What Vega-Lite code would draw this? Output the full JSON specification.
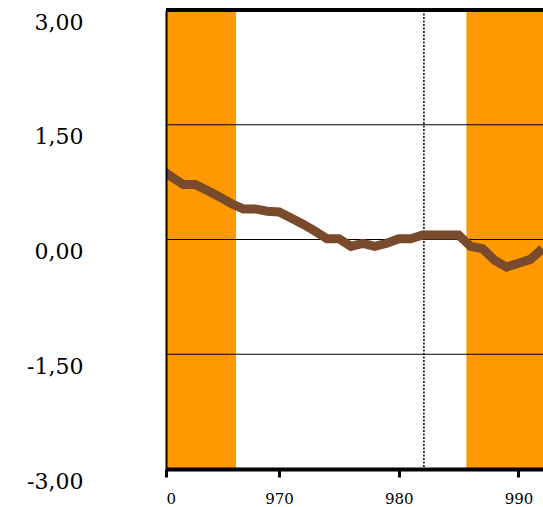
{
  "$schema": "https://vega.github.io/schema/vega-lite/v6.json",
  "width": 377,
  "height": 459,
  "autosize": {"type": "none"},
  "padding": {"left": 166, "top": 10, "right": 0, "bottom": 38},
  "background": "white",
  "config": {"view": {"stroke": null}},
  "layer": [
    {
      "data": {"values": [{"start": 960.55, "end": 966.4}, {"start": 985.65, "end": 992.05}]},
      "mark": {"type": "rect", "color": "#ff9900", "clip": true},
      "encoding": {
        "x": {
          "field": "start", "type": "quantitative", "title": null,
          "scale": {"domain": [960.55, 992.05], "nice": false, "zero": false},
          "axis": {
            "zindex": 1, "grid": false,
            "domainColor": "black", "domainWidth": 4,
            "tickColor": "black", "tickWidth": 3, "tickSize": 8,
            "values": [960.55, 970, 980, 990],
            "labelExpr": "datum.value < 961 ? '0' : format(datum.value, 'd')",
            "labelFont": "DejaVu Serif", "labelFontSize": 15, "labelColor": "black",
            "labelPadding": 14, "labelBaseline": "top", "labelFlush": true
          }
        },
        "x2": {"field": "end"}
      }
    },
    {
      "data": {"values": [{"g": 1.5}, {"g": 0}, {"g": -1.5}]},
      "mark": {"type": "rule", "color": "black", "strokeWidth": 1},
      "encoding": {
        "y": {
          "field": "g", "type": "quantitative", "title": null,
          "scale": {"domain": [-3, 3], "nice": false, "zero": false},
          "axis": {
            "zindex": 1, "grid": false, "ticks": false,
            "domainColor": "black", "domainWidth": 2,
            "values": [3, 1.5, 0, -1.5, -3],
            "labelExpr": "(datum.value < 0 ? '-' : '') + replace(format(abs(datum.value), '.2f'), '.', ',')",
            "labelFont": "DejaVu Serif", "labelFontSize": 22, "labelColor": "black",
            "labelPadding": 83, "labelBaseline": "top", "labelOffset": 2
          }
        }
      }
    },
    {
      "data": {"values": [{"t": 982.1}]},
      "mark": {"type": "rule", "color": "black", "strokeWidth": 1.5, "strokeDash": [2, 1.5]},
      "encoding": {"x": {"field": "t", "type": "quantitative", "title": null}}
    },
    {
      "data": {"values": [{"top": 3}]},
      "mark": {"type": "rule", "color": "black", "strokeWidth": 4},
      "encoding": {"y": {"field": "top", "type": "quantitative", "title": null}}
    },
    {
      "data": {"values": [
        {"year": 960, "value": 0.93}, {"year": 961, "value": 0.82}, {"year": 962, "value": 0.72},
        {"year": 963, "value": 0.72}, {"year": 964, "value": 0.64}, {"year": 965, "value": 0.56},
        {"year": 966, "value": 0.47}, {"year": 967, "value": 0.40}, {"year": 968, "value": 0.40},
        {"year": 969, "value": 0.37}, {"year": 970, "value": 0.36}, {"year": 971, "value": 0.28},
        {"year": 972, "value": 0.20}, {"year": 973, "value": 0.11}, {"year": 974, "value": 0.01},
        {"year": 975, "value": 0.01}, {"year": 976, "value": -0.09}, {"year": 977, "value": -0.05},
        {"year": 978, "value": -0.09}, {"year": 979, "value": -0.05}, {"year": 980, "value": 0.01},
        {"year": 981, "value": 0.01}, {"year": 982, "value": 0.06}, {"year": 983, "value": 0.06},
        {"year": 984, "value": 0.06}, {"year": 985, "value": 0.06}, {"year": 986, "value": -0.09},
        {"year": 987, "value": -0.12}, {"year": 988, "value": -0.27}, {"year": 989, "value": -0.36},
        {"year": 990, "value": -0.31}, {"year": 991, "value": -0.26}, {"year": 992, "value": -0.12}
      ]},
      "mark": {"type": "line", "color": "#7a4a2c", "strokeWidth": 9, "clip": true},
      "encoding": {
        "x": {"field": "year", "type": "quantitative", "title": null},
        "y": {"field": "value", "type": "quantitative", "title": null}
      }
    }
  ]
}
